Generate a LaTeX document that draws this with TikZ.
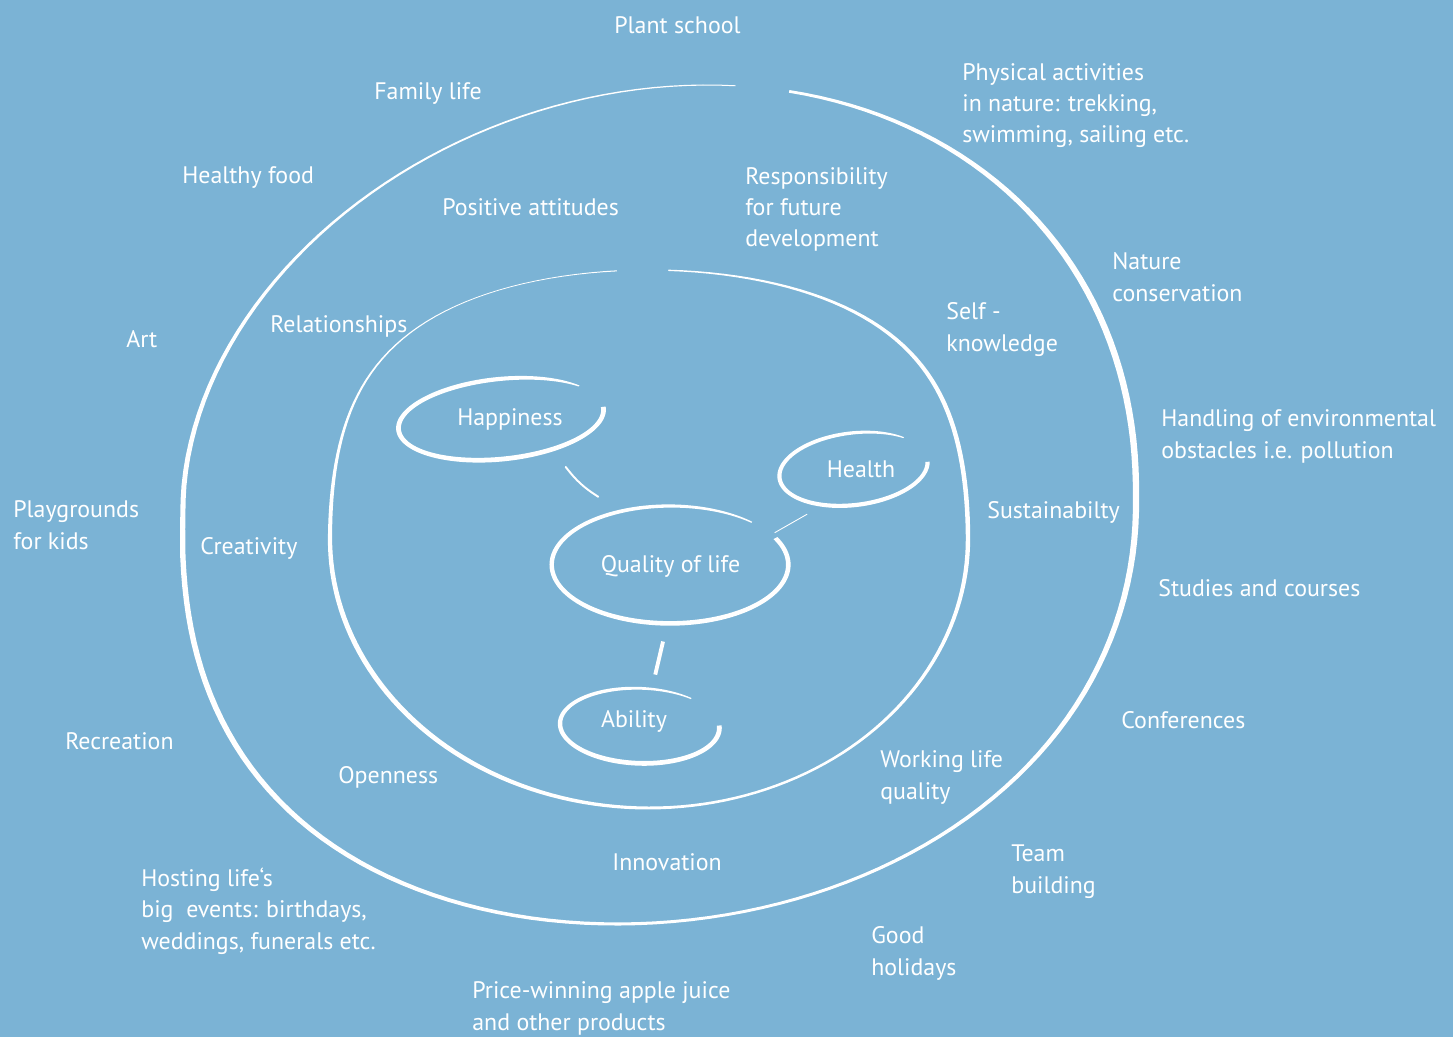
\documentclass[tikz,border=0pt]{standalone}
\usepackage{fontspec}
\setmainfont{PT Sans}
\usetikzlibrary{calc}
\definecolor{SkyBlue}{RGB}{123,179,213}

% brush stroke along an ellipse: [placement]{a}{b}{from}{to}{width(\q)}{x offset(\q)}
\newcommand{\brush}[7][]{%
  \fill[white, #1, declare function={bw(\q)=#6; bdx(\q)=#7;}]
    plot[domain=#4:#5, samples=180] ({(#2+bw(\x)/2)*cos(\x)+bdx(\x)}, {(#3+bw(\x)/2)*sin(\x)})
    -- plot[domain=#4:#5, samples=180] ({(#2-bw((#4)+(#5)-\x)/2)*cos((#4)+(#5)-\x)+bdx((#4)+(#5)-\x)}, {(#3-bw((#4)+(#5)-\x)/2)*sin((#4)+(#5)-\x)})
    -- cycle;}

\begin{document}
\begin{tikzpicture}[x=0.02cm, y=-0.02cm,
  lbl/.style={text=white, anchor=base west, align=left, inner sep=0pt,
    font=\fontsize{13.6}{17.8}\selectfont},
  bubble/.style={text=white, anchor=base, inner sep=0.3333em,
    font=\fontsize{13.6}{17.8}\selectfont}]
\fill[SkyBlue] (0,0) rectangle (1453,1037);
\useasboundingbox (0,0) rectangle (1453,1037);

% outer and inner rings
\brush[shift={(659.5,504.5)}]{476.5}{419.5}{-80}{273.4}
  {1.15*(3.6+0.5*cos(\q)+0.4*sin(\q)+1.3*cos(2*\q)-0.9*sin(2*\q))*min(1,0.4+(273.4-\q)/40)}
  {48*max(0,-sin(\q))^1.5-85*max(0,sin(\q))^1.5*(1-cos(\q))/2}
\brush[shift={(649,539)}]{319}{269}{-87.3}{265.5}
  {1.1*max(0.6,2.9+0.1*cos(\q)+0.8*sin(\q)+cos(2*\q)-sin(2*\q))}
  {90*cos(\q)*max(0,-sin(\q))^2}

% small loops
\brush[shift={(501,419)}, rotate=6]{103}{40}{-362}{-38}{4.8-3.5*((\q+362)/324)^10}{0}
\brush[shift={(853.5,469)}, rotate=7]{74.5}{36}{-357}{-44}{4.2-3*((\q+357)/313)^8}{0}
\brush[shift={(670,564.7)}]{118.3}{58.7}{-27}{313.7}{4.6-3.2*((\q+27)/340.7)^6}{0}
\brush[shift={(639.7,725.8)}, rotate=-2]{79.7}{37.5}{-364.7}{-50.7}{4.8-3.5*((\q+364.7)/314)^4}{0}

\node[bubble] (happy) at (510,425) {Happiness};
\node[bubble] (health) at (861,477) {Health};
\node[bubble] (qol) at (670.5,572) {Quality of life};
\node[bubble] (ability) at (634,727) {Ability};

\draw[white, line width=1.1pt, line cap=round] ($(happy)!0.347!(qol)+(0,-3)$) to[bend right=10] ($(happy)!0.55!(qol)+(0,-3)$);
\draw[white, line width=0.5pt, shorten <=1.24cm, shorten >=0.65cm] (health.south) -- (qol.north east);
\draw[white, line width=2.2pt, shorten <=1.2cm, shorten >=0.6cm] (qol.-70) -- (ability.50);

% labels, placed on the baseline of their last line
\node[lbl] (plant) at (614,34) {Plant school};
\node[lbl] (family) at (374,100) {Family life};
\node[lbl] (food) at (182,184) {Healthy food};
\node[lbl] (attitudes) at (442,215) {Positive attitudes};
\node[lbl] (relations) at (270,332) {Relationships};
\node[lbl] (art) at (126,347) {Art};
\node[lbl] (playgrounds) at (13,549) {Playgrounds\\for kids};
\node[lbl] (creativity) at (200,554) {Creativity};
\node[lbl] (physical) at (962,143) {Physical activities\\in nature: trekking,\\swimming, sailing etc.};
\node[lbl] (responsibility) at (745,247) {Responsibility\\for future\\development};
\node[lbl] (nature) at (1112,301) {Nature\\conservation};
\node[lbl] (selfknow) at (946,351) {Self -\\knowledge};
\node[lbl] (handling) at (1161,458) {Handling of environmental\\obstacles i.e. pollution};
\node[lbl] (sustain) at (987,518) {Sustainabilty};
\node[lbl] (studies) at (1158,596) {Studies and courses};
\node[lbl] (conferences) at (1121,728) {Conferences};
\node[lbl] (working) at (880,799) {Working life\\quality};
\node[lbl] (team) at (1011,893) {Team\\building};
\node[lbl] (holidays) at (871,975) {Good\\holidays};
\node[lbl] (recreation) at (65,749) {Recreation};
\node[lbl] (openness) at (338,783) {Openness};
\node[lbl] (innovation) at (612,870) {Innovation};
\node[lbl] (hosting) at (141,949) {Hosting life‘s\\big\ \ events: birthdays,\\weddings, funerals etc.};
\node[lbl] (juice) at (472,1030) {Price-winning apple juice\\and other products};
\end{tikzpicture}
\end{document}
